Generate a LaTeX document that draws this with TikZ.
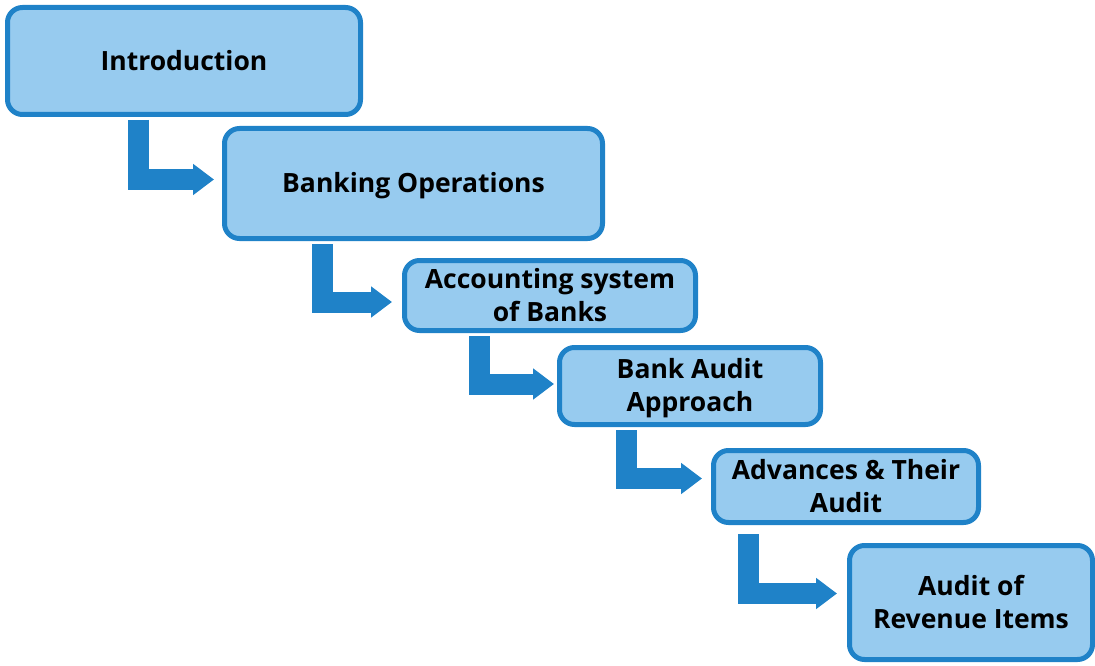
\documentclass[tikz,border=0pt]{standalone}
\usepackage{fontspec}
\setmainfont{Open Sans}
\usetikzlibrary{arrows.meta}
\definecolor{boxfill}{HTML}{97CBEF}
\definecolor{boxline}{HTML}{1F82C8}
\newcommand\topstrut{\rule{0pt}{24pt}}
\newcommand\botstrut{\rule[-5pt]{0pt}{5pt}}
\tikzset{
  stage/.style={draw=boxline, fill=boxfill, line width=5pt, rounded corners=15pt,
    align=center, inner sep=0pt, font=\bfseries\fontsize{26.5}{33}\selectfont},
  conn/.style={draw=boxline, line width=21pt, line join=miter,
    -{Triangle[length=21pt,width=30pt]}},
}
\begin{document}
\begin{tikzpicture}[x=1pt,y=-1pt]
\useasboundingbox (0,0) rectangle (1095,666);
\node[stage, minimum width=353pt, minimum height=107pt] (n1) at (184,61) {\topstrut Introduction\botstrut};
\node[stage, minimum width=378pt, minimum height=110pt] (n2) at (413.5,183.5) {\topstrut Banking Operations\botstrut};
\node[stage, minimum width=291pt, minimum height=70pt] (n3) at (550,295.5) {\topstrut Accounting system\\of Banks\botstrut};
\node[stage, minimum width=261pt, minimum height=77pt] (n4) at (690,386) {\topstrut Bank Audit\\Approach\botstrut};
\node[stage, minimum width=265pt, minimum height=72pt] (n5) at (846,486.5) {\topstrut Advances \& Their\\Audit\botstrut};
\node[stage, minimum width=243pt, minimum height=114pt] (n6) at (971,602.5) {\topstrut Audit of\\Revenue Items\botstrut};
\draw[conn] ([xshift=-45.5pt,yshift=-3pt]n1.south) |- ([xshift=-8pt,yshift=4pt]n2.west);
\draw[conn] ([xshift=-91.5pt,yshift=-3pt]n2.south) |- ([xshift=-10pt,yshift=-6.5pt]n3.west);
\draw[conn] ([xshift=-71pt,yshift=-3pt]n3.south) |- ([xshift=-3pt,yshift=2pt]n4.west);
\draw[conn] ([xshift=-63.5pt,yshift=-3pt]n4.south) |- ([xshift=-9pt,yshift=8pt]n5.west);
\draw[conn] ([xshift=-98pt,yshift=-9pt]n5.south) |- ([xshift=-10pt,yshift=9pt]n6.west);
\end{tikzpicture}
\end{document}
